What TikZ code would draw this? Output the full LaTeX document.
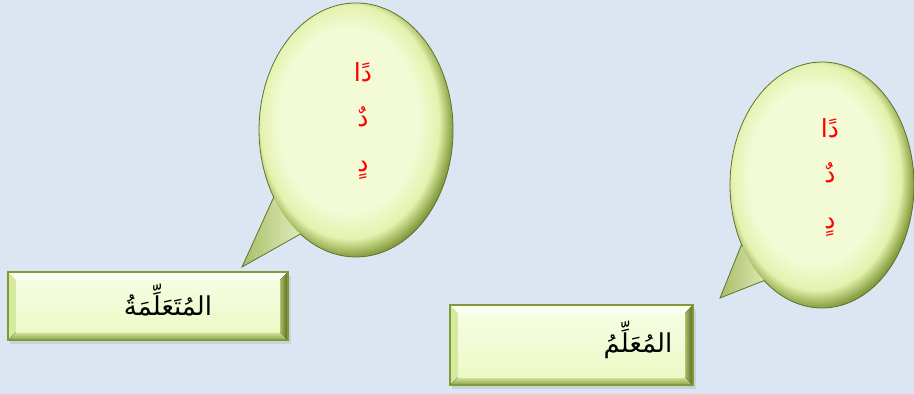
\documentclass[tikz,border=0pt]{standalone}
\usepackage{fontspec}
\newfontfamily\arabicfont[Script=Arabic]{DejaVu Sans}
\TeXXeTstate=1

% 颜色
\definecolor{bgblue}{RGB}{220,230,242}
\definecolor{bubin}{RGB}{242,251,214}
\definecolor{bubmid}{RGB}{228,242,174}
\definecolor{bubout}{RGB}{150,172,80}
\definecolor{bubrim}{RGB}{96,114,42}
\definecolor{bevtop}{RGB}{252,254,244}
\definecolor{bevleft}{RGB}{214,234,158}
\definecolor{bevright}{RGB}{170,190,100}
\definecolor{bevdark}{RGB}{86,102,36}
\definecolor{bevbotlt}{RGB}{214,232,160}
\definecolor{bevbotdk}{RGB}{138,162,68}
\definecolor{facetop}{RGB}{246,253,226}
\definecolor{facebot}{RGB}{236,249,198}
\definecolor{linegreen}{RGB}{128,154,58}

% 气泡的径向渐变: 25bp 处就是外沿, 中心稍偏左上
\pgfdeclareradialshading{bubshade}{\pgfpoint{-3bp}{3bp}}{color(0bp)=(bubin); color(18bp)=(bubin); color(23bp)=(bubmid); color(25.8bp)=(bubout); color(28bp)=(bubrim); color(50bp)=(bubrim)}

\tikzset{
    bubble/.style={shading=bubshade},
    tail/.style={left color=bubout!75!bubmid, right color=bubin},
    rim/.style={draw=bubrim, line width=0.8pt},
    face/.style={top color=facetop, bottom color=facebot},
    redword/.style={text=red, font=\arabicfont\fontsize{25}{30}\selectfont, inner sep=0pt},
    nameword/.style={text=black, font=\arabicfont\fontsize{26}{31}\selectfont, inner sep=0pt}
}

\begin{document}
\begin{tikzpicture}[x=1pt, y=-1pt]
    % 定义参数
    % x=1pt, y=-1pt: 坐标按像素, y 轴向下
    % 画布: 914 x 394
    % 斜边宽度 b = 8

    \path[use as bounding box, fill=bgblue] (0,0) rectangle (914,394);

    % 左边的气泡: 椭圆中心 (356,130), 半轴 97 / 127
    \shade[tail] (273.7,197.3) -- (242,267) -- (300.4,234.0) -- (320,200) -- cycle;
    \shade[bubble] (356,130) ellipse [x radius=97, y radius=127];
    \draw[rim] (273.7,197.3) -- (242,267) -- (300.4,234.0)
        arc[start angle=125, end angle=-212, x radius=97, y radius=127] -- cycle;

    % 右边的气泡: 椭圆中心 (822,185), 半轴 92 / 123
    \shade[tail] (741.5,244.6) -- (720,298) -- (764.1,280.6) -- (785,250) -- cycle;
    \shade[bubble] (822,185) ellipse [x radius=92, y radius=123];
    \draw[rim] (741.5,244.6) -- (720,298) -- (764.1,280.6)
        arc[start angle=129, end angle=-209, x radius=92, y radius=123] -- cycle;

    % 两个带斜边的框
    \foreach \xa/\ya/\xb/\yb in {8/272/288/340, 450/305/693/385} {
        \fill[black!35, opacity=0.3] (\xa+2,\ya+4) rectangle (\xb+3,\yb+4);
        \fill[bevtop] (\xa,\ya) -- (\xb,\ya) -- (\xb-8,\ya+8) -- (\xa+8,\ya+8) -- cycle;
        \fill[bevleft] (\xa,\ya) -- (\xa+8,\ya+8) -- (\xa+8,\yb-8) -- (\xa,\yb) -- cycle;
        \fill[top color=bevbotlt, bottom color=bevbotdk] (\xa,\yb) -- (\xb,\yb) -- (\xb-8,\yb-8) -- (\xa+8,\yb-8) -- cycle;
        \fill[left color=bevright, right color=bevdark] (\xb,\ya) -- (\xb,\yb) -- (\xb-8,\yb-8) -- (\xb-8,\ya+8) -- cycle;
        \fill[face] (\xa+8,\ya+8) rectangle (\xb-8,\yb-8);
        \draw[linegreen, line width=1.2pt] (\xa,\ya) rectangle (\xb,\yb);
    }

    % 文字
    \node[nameword] (learner) at (168,300) {\beginR المُتَعَلِّمَةُ\endR};
    \node[nameword] (teacher) at (638,340) {\beginR المُعَلِّمُ\endR};

    \node[redword] (fathaL) at (363,72) {\beginR دًا\endR};
    \node[redword] (dammaL) at (363,117) {\beginR دٌ\endR};
    \node[redword] (kasraL) at (363,170) {\beginR دٍ\endR};

    \node[redword] (fathaR) at (830,128) {\beginR دًا\endR};
    \node[redword] (dammaR) at (830,173) {\beginR دٌ\endR};
    \node[redword] (kasraR) at (830,227) {\beginR دٍ\endR};
\end{tikzpicture}
\end{document}
